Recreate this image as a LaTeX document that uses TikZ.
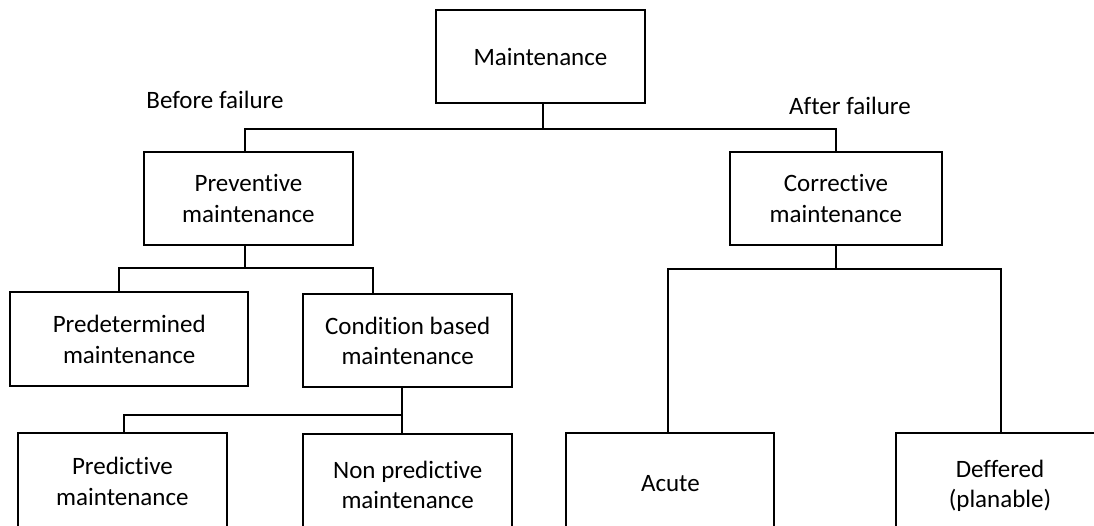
\documentclass[tikz,border=0pt]{standalone}
\usepackage{fontspec}
\setmainfont{Carlito}[Ligatures=NoCommon]
\begin{document}
\begin{tikzpicture}[x=1pt,y=-1pt,
  box/.style={draw, line width=2pt, inner sep=0pt, outer sep=0pt, align=center,
    font=\fontsize{25}{30.5}\selectfont},
  lbl/.style={inner sep=0pt, font=\fontsize{25}{30.5}\selectfont},
  link/.style={line width=2pt}]
\useasboundingbox (0,0) rectangle (1094,525);
\clip (0,0) rectangle (1094,525);

% boxes
\node[box, minimum width=209pt, minimum height=93pt] (maint) at (540.5,56.5) {Maintenance};
\node[box, minimum width=208.7pt, minimum height=93.3pt] (prev) at (248.4,198.7) {Preventive\\maintenance};
\node[box, minimum width=211.7pt, minimum height=93.3pt] (corr) at (835.9,198.7) {Corrective\\maintenance};
\node[box, minimum width=238.3pt, minimum height=93.7pt] (pdet) at (129.2,339.2) {Predetermined\\maintenance};
\node[box, minimum width=208.6pt, minimum height=93pt] (cond) at (407.7,340.8) {Condition based\\maintenance};
\node[box, minimum width=208.2pt, minimum height=95.8pt] (pred) at (122.4,481.2) {Predictive\\maintenance};
\node[box, minimum width=208.6pt, minimum height=101pt] (npred) at (407.7,484.8) {Non predictive\\maintenance};
\node[box, minimum width=208pt, minimum height=100pt] (acute) at (670.4,483.3) {Acute};
\node[box, minimum width=208pt, minimum height=105pt] (deff) at (1000,485.8) {Deffered\\(planable)};

% branch labels
\node[lbl] (before) at (215,100) {Before failure};
\node[lbl] (after) at (850,106) {After failure};

% junction points
\coordinate (j1) at (542.7,129.3);
\coordinate (b1L) at (245,129.3);
\coordinate (b1R) at (836,129.3);
\coordinate (j2) at (245,268.3);
\coordinate (b2L) at (119.3,268.3);
\coordinate (b2R) at (373.4,268.3);
\coordinate (j3) at (836,269.3);
\coordinate (b3L) at (667.8,269.3);
\coordinate (b3R) at (1001,269.3);
\coordinate (j4) at (401.6,415);
\coordinate (b4L) at (123.5,415);

% connectors
\draw[link] (maint.south -| j1) -- (j1);
\draw[link] (prev.north -| b1L) -- (b1L) -- (b1R) -- (corr.north -| b1R);

\draw[link] (prev.south -| j2) -- (j2);
\draw[link] (pdet.north -| b2L) -- (b2L) -- (b2R) -- (cond.north -| b2R);

\draw[link] (corr.south -| j3) -- (j3);
\draw[link] (acute.north -| b3L) -- (b3L) -- (b3R) -- (deff.north -| b3R);

\draw[link] (cond.south -| j4) -- (npred.north -| j4);
\draw[link] (j4) -- (b4L) -- (pred.north -| b4L);
\end{tikzpicture}
\end{document}
